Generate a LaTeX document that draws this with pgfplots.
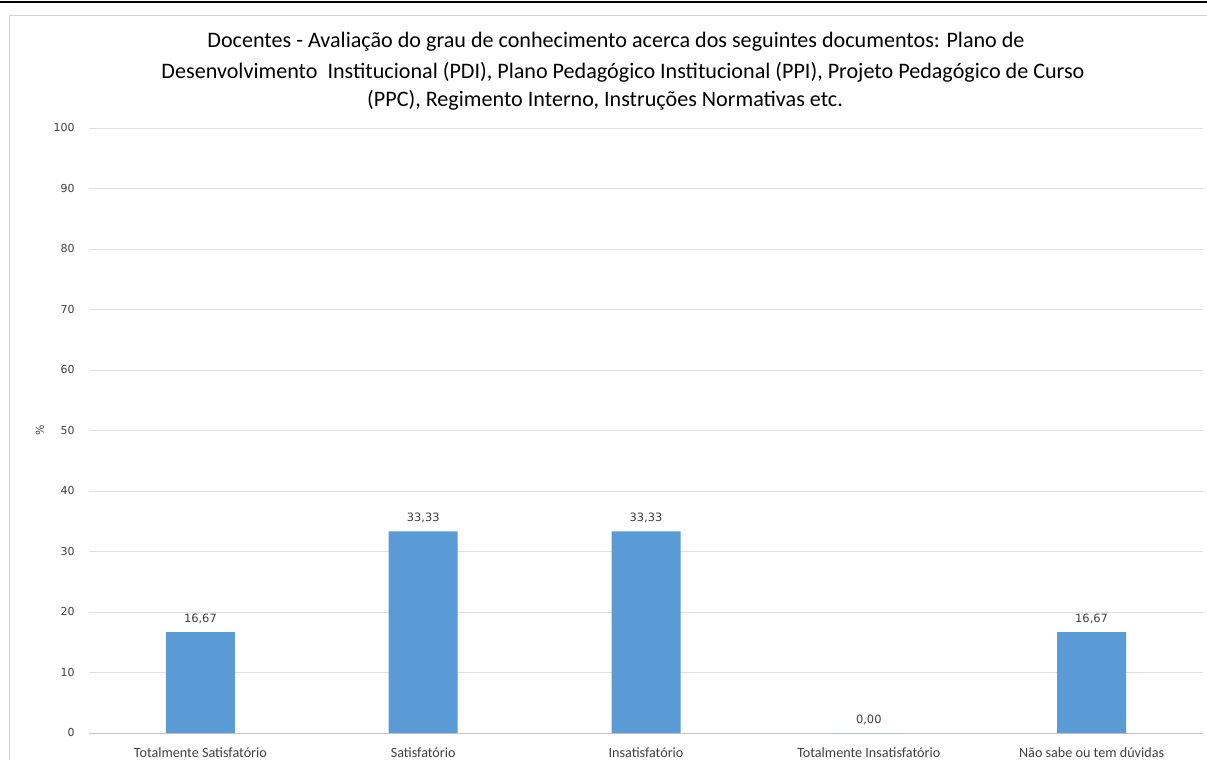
\documentclass[border=0pt]{standalone}
\usepackage{pgfplots}
\pgfplotsset{compat=1.18}
\usepackage{fontspec}
\setmainfont{Carlito}
\newfontfamily\numfont{DejaVu Sans}
\definecolor{barblue}{HTML}{5B9BD5}
\definecolor{gridgray}{HTML}{E0E0E0}
\definecolor{txtgray}{HTML}{404040}
\begin{document}
\begin{tikzpicture}
\useasboundingbox (0,0) rectangle (1207bp,760bp);
\fill[white] (0,0) rectangle (1207bp,760bp);
\draw[line width=2bp,black] (0,758bp) -- (1207bp,758bp);
\draw[gray!35,line width=0.8bp] (9bp,-5bp) -- (9bp,745bp) -- (1215bp,745bp);
\begin{scope}[every node/.style={font=\fontsize{22.2}{29}\selectfont, text=black, inner sep=0pt}]
\node at (616bp,718bp) {Docentes - Avaliação do grau de conhecimento acerca dos seguintes documentos: Plano de};
\node at (623bp,688bp) {Desenvolvimento\ \ Institucional (PDI), Plano Pedagógico Institucional (PPI), Projeto Pedagógico de Curso};
\node at (605bp,660bp) {(PPC), Regimento Interno, Instruções Normativas etc.};
\end{scope}
\begin{axis}[
  at={(89bp,27bp)}, anchor=south west,
  scale only axis, width=1114bp, height=605bp,
  xmin=-0.5, xmax=4.5, ymin=0, ymax=100,
  ytick={0,10,...,100},
  xtick=data,
  xticklabels={Totalmente Satisfatório,Satisfatório,Insatisfatório,Totalmente Insatisfatório,Não sabe ou tem dúvidas},
  x tick label style={font=\fontsize{14.2}{16}\selectfont, text=txtgray, yshift=-11bp},
  y tick label style={font=\numfont\fontsize{11}{13}\selectfont, text=txtgray, xshift=-11bp},
  /pgf/number format/assume math mode=true,
  ymajorgrids, grid style={gridgray, line width=0.8bp},
  axis x line*=bottom, axis y line*=left,
  y axis line style={draw=none},
  x axis line style={draw=gridgray!70!gray, line width=0.8bp, -},
  major tick length=0pt,
  ylabel={\numfont\fontsize{11}{13}\selectfont\%},
  ylabel style={at={(axis description cs:0,0.5)}, anchor=center, yshift=49bp, text=txtgray},
  ybar, bar width=69bp,
  nodes near coords,
  nodes near coords style={font=\numfont\fontsize{11.5}{13}\selectfont, text=txtgray, yshift=5bp,
    /pgf/number format/.cd, fixed, fixed zerofill, precision=2, use comma, assume math mode=true},
  clip=false,
]
\addplot[fill=barblue, draw=none] coordinates {(0,16.67) (1,33.33) (2,33.33) (3,0) (4,16.67)};
\end{axis}
\end{tikzpicture}
\end{document}
